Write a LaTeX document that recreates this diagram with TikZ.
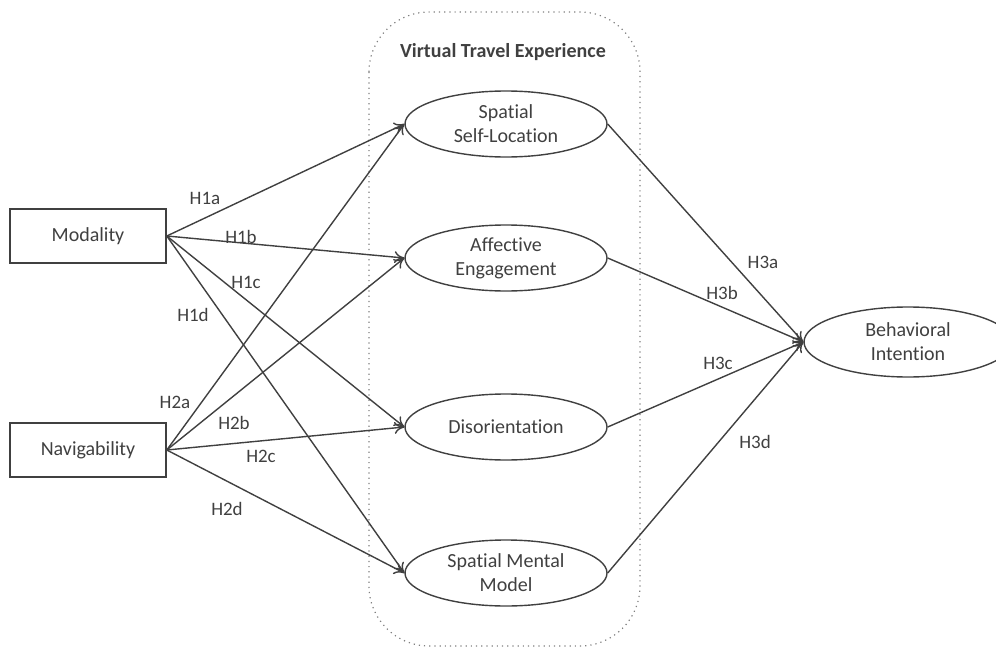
\documentclass[tikz,border=0pt]{standalone}
\usepackage{fontspec}
\setmainfont{Carlito}[Ligatures=NoCommon]
\usetikzlibrary{shapes.geometric,arrows.meta}
\definecolor{ink}{HTML}{404040}
\tikzset{
  construct/.style={draw=ink,line width=0.8pt,rectangle,minimum width=78pt,minimum height=27pt,text=ink,font=\fontsize{10}{12}\selectfont},
  latent/.style={draw=ink,line width=0.7pt,ellipse,minimum width=101pt,minimum height=33pt,inner sep=0pt,align=center,text=ink,font=\fontsize{10}{12}\selectfont},
  hyp/.style={text=ink,font=\fontsize{9.5}{11}\selectfont},
  path/.style={draw=ink,line width=0.7pt,-{To[length=5pt,width=6pt]}}
}
\begin{document}
\begin{tikzpicture}[x=0.5pt,y=-0.5pt]
\useasboundingbox (0,0) rectangle (996,648);

\path[draw=gray,dotted,line width=0.6pt,rounded corners=30pt] (369,12) rectangle (640,646);
\node[text=ink,font=\bfseries\fontsize{10}{12}\selectfont] (vte) at (503,52) {Virtual Travel Experience};

\node[construct] (mod) at (88,236) {Modality};
\node[construct] (nav) at (88,450) {Navigability};

\node[latent] (ssl) at (506,124) {Spatial\\Self-Location};
\node[latent] (ae) at (506,258) {Affective\\Engagement};
\node[latent] (dis) at (506,427) {Disorientation};
\node[latent] (smm) at (506,573) {Spatial Mental\\Model};

\node[latent,minimum width=104pt,minimum height=35pt] (bi) at (908,342) {Behavioral\\Intention};

\path[path] (mod.east) -- (ssl.west);
\path[path] (mod.east) -- (ae.west);
\path[path] (mod.east) -- (dis.west);
\path[path] (mod.east) -- (smm.west);

\path[path] (nav.east) -- (ssl.west);
\path[path] (nav.east) -- (ae.west);
\path[path] (nav.east) -- (dis.west);
\path[path] (nav.east) -- (smm.west);

\path[path] (ssl.east) -- (bi.west);
\path[path] (ae.east) -- (bi.west);
\path[path] (dis.east) -- (bi.west);
\path[path] (smm.east) -- (bi.west);

\node[hyp] (h1a) at (205,198) {H1a};
\node[hyp] (h1b) at (241,237) {H1b};
\node[hyp] (h1c) at (246,282) {H1c};
\node[hyp] (h1d) at (193,315) {H1d};
\node[hyp] (h2a) at (175,402) {H2a};
\node[hyp] (h2b) at (234,423) {H2b};
\node[hyp] (h2c) at (261,456) {H2c};
\node[hyp] (h2d) at (227,509) {H2d};
\node[hyp] (h3a) at (763,262) {H3a};
\node[hyp] (h3b) at (722,293) {H3b};
\node[hyp] (h3c) at (718,363) {H3c};
\node[hyp] (h3d) at (755,442) {H3d};
\end{tikzpicture}
\end{document}
